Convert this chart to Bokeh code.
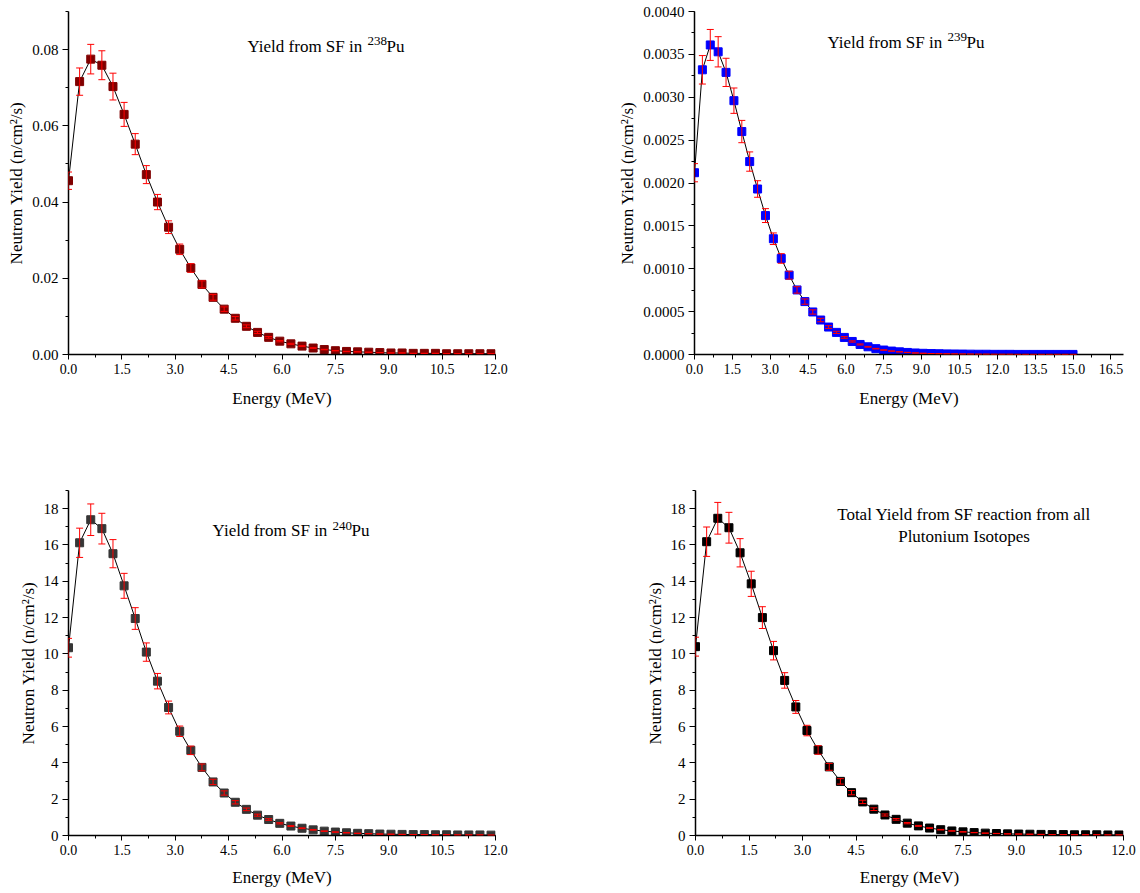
from bokeh.plotting import figure
from bokeh.models import (Range1d, SingleIntervalTicker, PrintfTickFormatter,
                          ColumnDataSource, Whisker, TeeHead, Label)
from bokeh.layouts import column, row
from bokeh.embed import file_html
from bokeh.resources import INLINE

# ---------------- data ----------------
energy_12 = [0.0, 0.3125, 0.625, 0.9375, 1.25, 1.5625, 1.875, 2.1875, 2.5, 2.8125,
             3.125, 3.4375, 3.75, 4.0625, 4.375, 4.6875, 5.0, 5.3125, 5.625, 5.9375,
             6.25, 6.5625, 6.875, 7.1875, 7.5, 7.8125, 8.125, 8.4375, 8.75, 9.0625,
             9.375, 9.6875, 10.0, 10.3125, 10.625, 10.9375, 11.25, 11.5625, 11.875]
energy_15 = energy_12 + [12.1875, 12.5, 12.8125, 13.125, 13.4375, 13.75, 14.0625,
                         14.375, 14.6875, 15.0]

yield_pu238 = [0.0456, 0.0716, 0.0775, 0.0759, 0.0703, 0.0630, 0.0552, 0.0472, 0.0400, 0.0334,
               0.0276, 0.0227, 0.0184, 0.0150, 0.0119, 0.0095, 0.0074, 0.0058, 0.0045, 0.0035,
               0.0028, 0.0022, 0.0017, 0.0013, 0.0010, 0.0008, 0.0007, 0.0006, 0.0005, 0.0004,
               0.0004, 0.0003, 0.0003, 0.0003, 0.0002, 0.0002, 0.0002, 0.0002, 0.0002]

yield_pu239 = [0.00212, 0.00332, 0.00361, 0.00353, 0.00329, 0.00296, 0.00260, 0.00225, 0.00193, 0.00162,
               0.00135, 0.00112, 0.000925, 0.000753, 0.000617, 0.000496, 0.000402, 0.000320, 0.000258, 0.000199,
               0.000152, 0.000117, 0.000090, 0.000068, 0.000052, 0.000040, 0.000031, 0.000024, 0.000018, 0.000014,
               0.000011, 0.000009, 0.000007, 0.000006, 0.000005, 0.000004, 0.000003, 0.000003, 0.000002, 0.000002,
               0.000002, 0.000001, 0.000001, 0.000001, 0.000001, 0.000001, 0.000001, 0.000001, 0.000001]

yield_pu240 = [10.34, 16.12, 17.39, 16.90, 15.52, 13.75, 11.95, 10.10, 8.50, 7.05,
               5.74, 4.69, 3.75, 2.95, 2.34, 1.83, 1.44, 1.12, 0.88, 0.67,
               0.52, 0.40, 0.31, 0.24, 0.19, 0.15, 0.12, 0.10, 0.08, 0.07,
               0.06, 0.05, 0.05, 0.04, 0.04, 0.03, 0.03, 0.03, 0.02]

yield_total = [10.40, 16.18, 17.47, 16.95, 15.57, 13.86, 12.00, 10.18, 8.54, 7.08,
               5.78, 4.71, 3.78, 2.98, 2.36, 1.85, 1.45, 1.13, 0.89, 0.68,
               0.53, 0.41, 0.32, 0.25, 0.20, 0.16, 0.13, 0.11, 0.09, 0.08,
               0.07, 0.06, 0.05, 0.05, 0.04, 0.04, 0.04, 0.03, 0.03]

relative_error = 0.05  # error bars are +/- 5 %

FONT = "Liberation Serif"
XLABEL = "Energy (MeV)"
YLABEL = "Neutron Yield (n/cm\u00b2/s)"


def make_panel(width, height, bl, br, bt, bb, xmax, ymax, yint, yfmt,
               xs, ys, color, xlab_standoff):
    p = figure(width=width, height=height,
               x_range=Range1d(0, xmax), y_range=Range1d(0, ymax),
               output_backend="svg", toolbar_location=None,
               min_border_left=bl, min_border_right=br,
               min_border_top=bt, min_border_bottom=bb)
    p.xgrid.visible = False
    p.ygrid.visible = False
    p.outline_line_color = None
    p.background_fill_color = "white"
    p.border_fill_color = "white"

    src = ColumnDataSource(dict(
        x=xs, y=ys,
        lo=[v * (1 - relative_error) for v in ys],
        hi=[v * (1 + relative_error) for v in ys]))
    p.line("x", "y", source=src, line_color="black", line_width=1)
    p.scatter("x", "y", source=src, marker="square", size=8,
              fill_color=color, line_color=color, line_width=1)
    w = Whisker(source=src, base="x", lower="lo", upper="hi",
                line_color="red", line_width=1, level="annotation",
                upper_head=TeeHead(size=7, line_color="red", line_width=1),
                lower_head=TeeHead(size=7, line_color="red", line_width=1))
    p.add_layout(w)

    p.xaxis.ticker = SingleIntervalTicker(interval=1.5, num_minor_ticks=2)
    p.xaxis.formatter = PrintfTickFormatter(format="%.1f")
    p.yaxis.ticker = SingleIntervalTicker(interval=yint, num_minor_ticks=2)
    p.yaxis.formatter = PrintfTickFormatter(format=yfmt)

    for ax in (p.xaxis[0], p.yaxis[0]):
        ax.axis_line_color = "black"
        ax.axis_line_width = 1.5
        ax.major_tick_line_color = "black"
        ax.minor_tick_line_color = "black"
        ax.major_tick_line_width = 1
        ax.minor_tick_line_width = 1
        ax.major_tick_in = 0
        ax.minor_tick_in = 0
        ax.minor_tick_out = 3
        ax.major_label_text_font = FONT
        ax.major_label_text_color = "black"
        ax.axis_label_text_font = FONT
        ax.axis_label_text_font_size = "17px"
        ax.axis_label_text_font_style = "normal"
        ax.axis_label_text_color = "black"
        ax.major_label_standoff = 4
    p.xaxis.major_tick_out = 5
    p.yaxis.major_tick_out = 6
    p.xaxis.major_label_text_font_size = "14px"
    p.yaxis.major_label_text_font_size = "15px"
    p.xaxis.axis_label = XLABEL
    p.yaxis.axis_label = YLABEL
    p.xaxis.axis_label_standoff = xlab_standoff
    p.yaxis.axis_label_standoff = 3
    return p


def add_iso_title(p, x, y, mass):
    common = dict(x=x, y=y, text_font=FONT, text_color="black",
                  text_baseline="alphabetic", text_align="left")
    p.add_layout(Label(text="Yield from SF in", text_font_size="17px", **common))
    p.add_layout(Label(text=mass, text_font_size="13px", x_offset=120, y_offset=5, **common))
    p.add_layout(Label(text="Pu", text_font_size="17px", x_offset=139, **common))


p1 = make_panel(568, 428, 68, 73, 10, 74, 12, 0.09, 0.02, "%.2f",
                energy_12, yield_pu238, "#800000", 12)
add_iso_title(p1, 5.03, 0.0809, "238")

p2 = make_panel(572, 428, 126, 17, 11, 74, 17, 0.0040, 0.0005, "%.4f",
                energy_15, yield_pu239, "#0000ff", 12)
add_iso_title(p2, 5.27, 0.00364, "239")

p3 = make_panel(568, 465, 68, 73, 62, 58, 12, 19, 2, "%d",
                energy_12, yield_pu240, "#363636", 10)
add_iso_title(p3, 4.05, 16.78, "240")

p4 = make_panel(572, 465, 127, 17, 62, 58, 12, 19, 2, "%d",
                energy_12, yield_total, "#000000", 10)
for txt, yy in (("Total Yield from SF reaction from all", 17.70),
                ("Plutonium Isotopes", 16.48)):
    p4.add_layout(Label(x=7.53, y=yy, text=txt, text_font=FONT, text_font_size="17px",
                        text_color="black", text_baseline="alphabetic", text_align="center"))

layout = column(row(p1, p2), row(p3, p4))
open("out.html", "w").write(file_html(layout, INLINE))
